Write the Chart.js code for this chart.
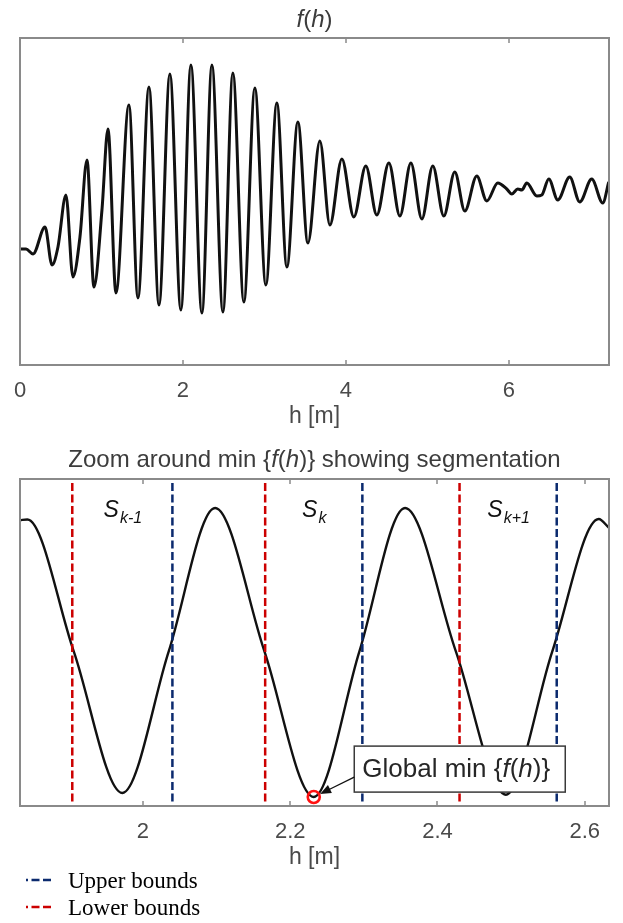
<!DOCTYPE html>
<html>
<head>
<meta charset="utf-8">
<title>f(h) segmentation</title>
<script src="https://cdn.jsdelivr.net/npm/chart.js@4.4.1/dist/chart.umd.min.js"></script>
<style>
  body { margin: 0; background: #fff; width: 623px; height: 923px; overflow: hidden; position: relative; }
  canvas { position: absolute; left: 0; }
  #overview { top: 0; }
  #zoom { top: 430px; }
</style>
</head>
<body>
<canvas id="overview" width="623" height="430"></canvas>
<canvas id="zoom" width="623" height="493"></canvas>
<script>
// f(h) over the full range, sampled at its turning points (h in m)
const overviewH = [0, 0.074, 0.160, 0.307, 0.393, 0.466, 0.564, 0.650, 0.736, 0.822, 0.908, 1.006, 1.080, 1.178,
  1.337, 1.448, 1.583, 1.706, 1.840, 1.975, 2.098, 2.233, 2.356, 2.491, 2.613, 2.748, 2.883, 3.018, 3.153, 3.276,
  3.411, 3.534, 3.681, 3.804, 3.951, 4.098, 4.245, 4.380, 4.528, 4.663, 4.798, 4.933, 5.067, 5.202, 5.337, 5.460,
  5.607, 5.730, 5.865, 5.975, 6.037, 6.110, 6.160, 6.221, 6.344, 6.405, 6.491, 6.601, 6.748, 6.871, 7.018, 7.153, 7.227];
const overviewF = [0.01, 0.01, -0.04, 0.23, -0.15, 0.03, 0.55, -0.27, 0.13, 0.90, -0.37, 0.40, 1.21, -0.43,
  1.45, -0.48, 1.63, -0.55, 1.76, -0.60, 1.85, -0.63, 1.85, -0.62, 1.77, -0.52, 1.62, -0.35, 1.47, -0.17,
  1.28, 0.07, 1.09, 0.25, 0.91, 0.33, 0.84, 0.35, 0.87, 0.34, 0.87, 0.31, 0.84, 0.34, 0.78, 0.39,
  0.74, 0.49, 0.67, 0.61, 0.56, 0.61, 0.60, 0.67, 0.54, 0.55, 0.71, 0.50, 0.73, 0.48, 0.71, 0.47, 0.68];
const overviewTicks = [0, 2, 4, 6];

// close-up around the lowest trough
const zoomH = [1.833, 1.843, 1.906, 1.972, 2.035, 2.098, 2.165, 2.232, 2.294, 2.356, 2.425, 2.493, 2.556, 2.619, 2.633];
const zoomF = [1.745, 1.752, 0.62, -0.596, 0.62, 1.85, 0.62, -0.63, 0.62, 1.85, 0.62, -0.61, 0.62, 1.756, 1.68];
const zoomTicks = [2, 2.2, 2.4, 2.6];

const lowerBounds = [1.904, 2.166, 2.430];
const upperBounds = [2.040, 2.298, 2.562];
const segmentNames = ['k-1', 'k', 'k+1'];
const globalMin = { h: 2.232, f: -0.63 };

const SANS = '"Liberation Sans", Arial, sans-serif';
const SERIF = '"Liberation Serif", "Times New Roman", serif';
const AXIS_GREY = '#8a8a8a';
const TEXT_GREY = '#4a4a4a';
const RED = '#cc0000';
const NAVY = '#0b2a6e';

// draw a run of [text, italic] pieces on one line
function richText(ctx, parts, x, y, size, color, align) {
  const widths = parts.map(([t, it]) => {
    ctx.font = (it ? 'italic ' : '') + size + 'px ' + SANS;
    return ctx.measureText(t).width;
  });
  const total = widths.reduce((a, b) => a + b, 0);
  let cx = align === 'center' ? x - total / 2 : x;
  ctx.fillStyle = color;
  ctx.textAlign = 'left';
  ctx.textBaseline = 'middle';
  parts.forEach(([t, it], i) => {
    ctx.font = (it ? 'italic ' : '') + size + 'px ' + SANS;
    ctx.fillText(t, cx, y);
    cx += widths[i];
  });
  return total;
}

// box round the plot with short inward ticks top and bottom
const axesBox = {
  id: 'axesBox',
  afterDatasetsDraw(chart) {
    const { ctx, chartArea: a, scales: { x } } = chart;
    ctx.save();
    ctx.strokeStyle = AXIS_GREY;
    ctx.lineWidth = 2;
    ctx.strokeRect(a.left, a.top, a.right - a.left, a.bottom - a.top);
    ctx.lineWidth = 1.5;
    x.ticks.forEach(t => {
      const px = Math.round(x.getPixelForValue(t.value));
      ctx.beginPath();
      ctx.moveTo(px, a.bottom);
      ctx.lineTo(px, a.bottom - 5);
      ctx.moveTo(px, a.top);
      ctx.lineTo(px, a.top + 5);
      ctx.stroke();
    });
    ctx.restore();
  }
};

const richTitle = {
  id: 'richTitle',
  afterDraw(chart, args, opts) {
    const { ctx, chartArea: a } = chart;
    ctx.save();
    richText(ctx, opts.parts, (a.left + a.right) / 2, opts.y, 24, '#3c3c3c', 'center');
    ctx.restore();
  }
};

function xAxis(min, max, ticks) {
  return {
    type: 'linear',
    min: min,
    max: max,
    afterBuildTicks: s => { s.ticks = ticks.map(v => ({ value: v })); },
    afterFit: s => { s.height = 65; },
    grid: { display: false },
    border: { display: false },
    ticks: {
      color: TEXT_GREY,
      font: { family: SANS, size: 22 },
      padding: 5,
      maxRotation: 0,
      autoSkip: false,
      callback: v => String(v)
    },
    title: {
      display: true,
      text: 'h [m]',
      color: TEXT_GREY,
      font: { family: SANS, size: 23 },
      padding: { top: 0, bottom: 0 }
    }
  };
}

new Chart(document.getElementById('overview'), {
  type: 'line',
  data: {
    datasets: [{
      data: overviewH.map((h, i) => ({ x: h, y: overviewF[i] })),
      borderColor: '#111',
      borderWidth: 3,
      pointRadius: 0,
      cubicInterpolationMode: 'monotone'
    }]
  },
  options: {
    responsive: false,
    animation: false,
    layout: { padding: { left: 20, right: 14, top: 38, bottom: 0 } },
    scales: {
      x: xAxis(0, 7.23, overviewTicks),
      y: { display: false, min: -1.15, max: 2.12 }
    },
    plugins: {
      legend: { display: false },
      tooltip: { enabled: false },
      richTitle: { y: 20, parts: [['f', true], ['(', false], ['h', true], [')', false]] }
    }
  },
  plugins: [axesBox, richTitle]
});

// vertical dashed markers, one segment per bound
function boundLines(bounds) {
  const pts = [];
  bounds.forEach(b => {
    pts.push({ x: b, y: 2.065 }, { x: b, y: -0.69 }, { x: b, y: null });
  });
  return pts;
}

// segment names, the "Global min" callout and the legend below the axes
const zoomNotes = {
  id: 'zoomNotes',
  afterDraw(chart, args, opts) {
    const { ctx, scales: { x, y } } = chart;
    ctx.save();

    segmentNames.forEach((name, i) => {
      const cx = x.getPixelForValue((lowerBounds[i] + upperBounds[i]) / 2);
      const base = y.getPixelForValue(1.773);
      ctx.textBaseline = 'alphabetic';
      ctx.textAlign = 'left';
      ctx.fillStyle = '#111';
      ctx.font = 'italic 23px ' + SANS;
      const sw = ctx.measureText('S').width;
      ctx.font = 'italic 16px ' + SANS;
      const kw = ctx.measureText(name).width;
      const left = cx - (sw + kw) / 2;
      ctx.font = 'italic 23px ' + SANS;
      ctx.fillText('S', left, base);
      ctx.font = 'italic 16px ' + SANS;
      ctx.fillText(name, left + sw + 1, base + 6);
    });

    // callout box
    const bx = x.getPixelForValue(opts.boxH);
    const by = y.getPixelForValue(opts.boxF);
    const bw = 211, bh = 46;
    ctx.fillStyle = '#fff';
    ctx.fillRect(bx, by, bw, bh);
    ctx.strokeStyle = '#3a3a3a';
    ctx.lineWidth = 1.5;
    ctx.strokeRect(bx, by, bw, bh);
    richText(ctx, [['Global min {', false], ['f', true], ['(', false], ['h', true], [')}', false]],
      bx + 8, by + bh / 2 + 1, 26, '#262626', 'left');

    // arrow from the box to the marked minimum
    const mx = x.getPixelForValue(globalMin.h);
    const my = y.getPixelForValue(globalMin.f);
    const sx = bx, sy = by + 31;
    const len = Math.hypot(sx - mx, sy - my);
    const ux = (sx - mx) / len, uy = (sy - my) / len;
    const tx = mx + ux * 7, ty = my + uy * 7;
    ctx.strokeStyle = '#111';
    ctx.fillStyle = '#111';
    ctx.lineWidth = 1.3;
    ctx.beginPath();
    ctx.moveTo(sx, sy);
    ctx.lineTo(tx + ux * 9, ty + uy * 9);
    ctx.stroke();
    ctx.beginPath();
    ctx.moveTo(tx, ty);
    ctx.lineTo(tx + ux * 11 - uy * 4.5, ty + uy * 11 + ux * 4.5);
    ctx.lineTo(tx + ux * 11 + uy * 4.5, ty + uy * 11 - ux * 4.5);
    ctx.closePath();
    ctx.fill();

    // legend
    const rows = [chart.data.datasets[2], chart.data.datasets[1]];
    rows.forEach((ds, i) => {
      const ly = 450 + i * 27;
      ctx.strokeStyle = ds.borderColor;
      ctx.lineWidth = 2.5;
      ctx.setLineDash(ds.borderDash);
      ctx.lineDashOffset = 6;
      ctx.beginPath();
      ctx.moveTo(26, ly);
      ctx.lineTo(54, ly);
      ctx.stroke();
      ctx.setLineDash([]);
      ctx.fillStyle = '#000';
      ctx.font = '23px ' + SERIF;
      ctx.textBaseline = 'alphabetic';
      ctx.fillText(ds.label, 68, ly + 8);
    });
    ctx.restore();
  }
};

new Chart(document.getElementById('zoom'), {
  type: 'line',
  data: {
    datasets: [{
      label: 'Global minimum',
      data: [{ x: globalMin.h, y: globalMin.f }],
      showLine: false,
      pointRadius: 6,
      pointBorderWidth: 2.6,
      pointBorderColor: '#ff1010',
      pointBackgroundColor: 'rgba(0,0,0,0)'
    }, {
      label: 'Lower bounds',
      data: boundLines(lowerBounds),
      borderColor: RED,
      borderWidth: 2.5,
      borderDash: [8, 3.5],
      pointRadius: 0,
      spanGaps: false
    }, {
      label: 'Upper bounds',
      data: boundLines(upperBounds),
      borderColor: NAVY,
      borderWidth: 2.5,
      borderDash: [8, 3.5],
      pointRadius: 0,
      spanGaps: false
    }, {
      label: 'f(h)',
      data: zoomH.map((h, i) => ({ x: h, y: zoomF[i] })),
      borderColor: '#111',
      borderWidth: 2.4,
      pointRadius: 0,
      cubicInterpolationMode: 'monotone'
    }]
  },
  options: {
    responsive: false,
    animation: false,
    layout: { padding: { left: 20, right: 14, top: 49, bottom: 52 } },
    scales: {
      x: xAxis(1.833, 2.633, zoomTicks),
      y: { display: false, min: -0.707, max: 2.099 }
    },
    plugins: {
      legend: { display: false },
      tooltip: { enabled: false },
      richTitle: {
        y: 30,
        parts: [['Zoom around min {', false], ['f', true], ['(', false], ['h', true], [')} showing segmentation', false]]
      },
      zoomNotes: { boxH: 2.287, boxF: -0.193 }
    }
  },
  plugins: [axesBox, richTitle, zoomNotes]
});
</script>
</body>
</html>
